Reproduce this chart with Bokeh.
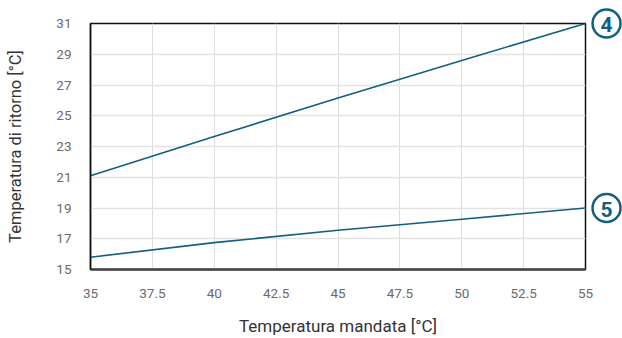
from bokeh.plotting import figure
from bokeh.models import FixedTicker, ColumnDataSource
from bokeh.embed import file_html
from bokeh.resources import INLINE
from bokeh.core.properties import value

# Data
x_vals = [35, 40, 45, 50, 55]
series_4 = [21.1, 23.65, 26.15, 28.6, 31.0]
series_5 = [15.8, 16.75, 17.55, 18.27, 19.0]
series_labels = ["4", "5"]
x_ticks = [35, 37.5, 40, 42.5, 45, 47.5, 50, 52.5, 55]
x_tick_labels = ["35", "37.5", "40", "42.5", "45", "47.5", "50", "52.5", "55"]
y_ticks = [15, 17, 19, 21, 23, 25, 27, 29, 31]

COL = "#125f80"
FONT = "Roboto"

p = figure(width=622, height=338, output_backend="svg", toolbar_location=None,
           x_range=(35, 55), y_range=(15, 31),
           min_border_left=90, min_border_right=37, min_border_top=23, min_border_bottom=69)
p.background_fill_color = "white"
p.border_fill_color = "white"
p.outline_line_color = "#111111"
p.outline_line_width = 1.5

for ax in (p.xaxis[0], p.yaxis[0]):
    ax.major_tick_line_color = None
    ax.minor_tick_line_color = None
    ax.major_label_text_font = FONT
    ax.major_label_text_font_size = "13.5px"
    ax.major_label_text_color = "#6b6b6b"
    ax.axis_label_text_font = FONT
    ax.axis_label_text_font_style = "normal"
    ax.axis_label_text_color = "#333333"

p.xaxis[0].ticker = FixedTicker(ticks=x_ticks)
p.xaxis[0].major_label_overrides = {t: l for t, l in zip(x_ticks, x_tick_labels)}
p.xaxis[0].major_label_standoff = 13
p.xaxis[0].axis_label = "Temperatura mandata [°C]"
p.xaxis[0].axis_label_text_font_size = "17px"
p.xaxis[0].axis_label_standoff = 15
p.xaxis[0].axis_line_color = "#444444"
p.xaxis[0].axis_line_width = 2.5

p.yaxis[0].ticker = FixedTicker(ticks=y_ticks)
p.yaxis[0].major_label_standoff = 13
p.yaxis[0].axis_label = "Temperatura di ritorno [°C]"
p.yaxis[0].axis_label_text_font_size = "16.5px"
p.yaxis[0].axis_label_standoff = 28
p.yaxis[0].axis_line_color = "#111111"
p.yaxis[0].axis_line_width = 1.5

p.xgrid.grid_line_color = "#dddddd"
p.ygrid.grid_line_color = "#e3e3e3"
p.xgrid.grid_line_width = 1
p.ygrid.grid_line_width = 1.5

p.line(x_vals, series_4, line_color=COL, line_width=1.6)
p.line(x_vals, series_5, line_color=COL, line_width=1.6)

# circled series labels, placed just right of the line ends
lab_src = ColumnDataSource(dict(
    x=[x_vals[-1] + 0.85, x_vals[-1] + 0.85],
    y=[series_4[-1], series_5[-1]],
    t=series_labels,
))
r1 = p.scatter("x", "y", source=lab_src, marker="circle", size=28,
               fill_color="white", line_color=COL, line_width=2.5)
r1.level = "overlay"
r2 = p.text("x", "y", text="t", source=lab_src, text_align="center", text_baseline="middle",
            text_font=value(FONT), text_font_size="21px", text_font_style="bold",
            text_color=COL, y_offset=1)
r2.level = "overlay"

open("out.html", "w").write(file_html(p, INLINE))
